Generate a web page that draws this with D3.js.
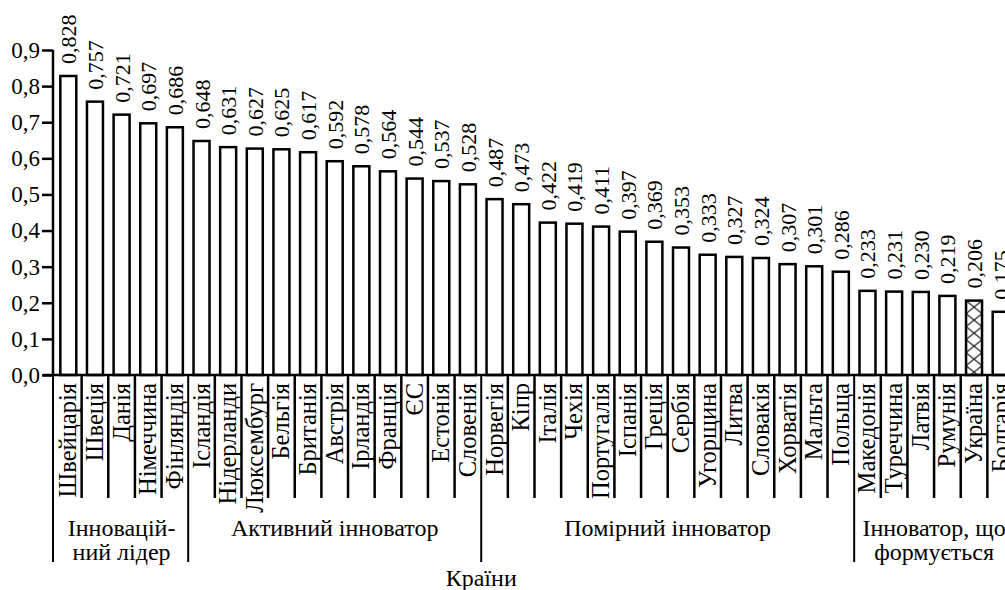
<!DOCTYPE html>
<html>
<head>
<meta charset="utf-8">
<script src="https://cdn.jsdelivr.net/npm/d3@7"></script>
<style>
  body { margin: 0; background: #fff; }
  svg { display: block; }
</style>
</head>
<body>
<div id="chart"></div>
<script>
// Summary innovation index by country
const countries = ["Швейцарія", "Швеція", "Данія", "Німеччина", "Фінляндія",
    "Ісландія", "Нідерланди", "Люксембург", "Бельгія", "Британія", "Австрія", "Ірландія",
    "Франція", "ЄС", "Естонія", "Словенія",
    "Норвегія", "Кіпр", "Італія", "Чехія", "Португалія", "Іспанія", "Греція", "Сербія",
    "Угорщина", "Литва", "Словакія", "Хорватія", "Мальта", "Польща",
    "Македонія", "Туреччина", "Латвія", "Румунія", "Україна", "Болгарія"];

const values = [0.828, 0.757, 0.721, 0.697, 0.686,
    0.648, 0.631, 0.627, 0.625, 0.617, 0.592, 0.578, 0.564, 0.544, 0.537, 0.528,
    0.487, 0.473, 0.422, 0.419, 0.411, 0.397, 0.369, 0.353, 0.333, 0.327, 0.324,
    0.307, 0.301, 0.286,
    0.233, 0.231, 0.230, 0.219, 0.206, 0.175];

// groups: label lines, first and last country
const groupLabels = [["Інновацій-", "ний лідер"], ["Активний інноватор"],
    ["Помірний інноватор"], ["Інноватор, що", "формується"]];
const groupRanges = [["Швейцарія", "Фінляндія"], ["Ісландія", "Словенія"],
    ["Норвегія", "Польща"], ["Македонія", "Болгарія"]];

const yTicks = [0, 0.1, 0.2, 0.3, 0.4, 0.5, 0.6, 0.7, 0.8, 0.9];
const highlight = "Україна";

const data = countries.map((c, i) => ({name: c, value: values[i]}));

const font = "Liberation Serif";

const width = 1005,
      height = 590,
      margin = ({top: 50, right: -9, bottom: 215, left: 55});

const locale = d3.formatLocale({decimal: ",", thousands: " ", grouping: [3], currency: ["", ""]});
const f1 = locale.format(".1f"),
      f3 = locale.format(".3f");

let svg = d3.select("#chart")
    .append("svg")
    .attr("width", width)
    .attr("height", height)
    .attr("viewBox", [0, 0, width, height])
    .attr("font-family", font);

let x = d3.scaleBand()
    .domain(countries)
    .range([margin.left, width - margin.right])
    .paddingInner(0)
    .paddingOuter(0);

let y = d3.scaleLinear()
    .domain([0, 0.9])
    .range([height - margin.bottom, margin.top]);

const y0 = y(0);
const barW = x.bandwidth() * 0.6;
const barX = d => x(d) + (x.bandwidth() - barW) / 2;

// cross hatch for Ukraine, aligned with its bar
svg.append("defs").append("pattern")
    .attr("id", "hatch")
    .attr("patternUnits", "userSpaceOnUse")
    .attr("x", barX(highlight))
    .attr("y", y(values[countries.indexOf(highlight)]))
    .attr("width", barW)
    .attr("height", 13)
    .call(p => {
        p.append("rect").attr("width", barW).attr("height", 13).attr("fill", "#fff");
        p.append("path").attr("d", `M0,0L${barW},13M${barW},0L0,13`)
            .attr("stroke", "#000").attr("stroke-width", 1);
    });

// bars
let bar = svg.selectAll(".bar")
    .data(data)
    .join("g")
    .attr("class", "bar");

bar.append("rect")
    .attr("x", d => barX(d.name))
    .attr("y", d => y(d.value))
    .attr("width", barW)
    .attr("height", d => y0 - y(d.value))
    .attr("fill", d => d.name === highlight ? "url(#hatch)" : "#fff")
    .attr("stroke", "#000")
    .attr("stroke-width", 2.5);

// value labels
bar.append("text")
    .attr("transform", d => `translate(${x(d.name) + x.bandwidth() / 2 + 8},${y(d.value) - 12}) rotate(-90)`)
    .attr("font-family", font)
    .attr("font-size", 22)
    .text(d => f3(d.value));

// y axis
const yAxis = g => g
    .attr("transform", `translate(${margin.left - 2},0)`)
    .call(d3.axisLeft(y).tickValues(yTicks).tickFormat(f1).tickSize(11).tickPadding(2))
    .attr("font-family", font)
    .call(g => g.select(".domain").remove())
    .call(g => g.selectAll(".tick line").attr("stroke-width", 2.5))
    .call(g => g.selectAll(".tick text")
        .attr("font-family", font).attr("font-size", 23).attr("fill", "#000"));

svg.append("g").call(yAxis);

// y axis line
svg.append("line")
    .attr("x1", margin.left - 2).attr("x2", margin.left - 2)
    .attr("y1", y(0.9)).attr("y2", y0)
    .attr("stroke", "#000").attr("stroke-width", 2.5);

// x axis line
svg.append("line")
    .attr("x1", margin.left - 12).attr("x2", width)
    .attr("y1", y0).attr("y2", y0)
    .attr("stroke", "#000").attr("stroke-width", 2.5);

// category separators
const starts = groupRanges.map(r => r[0]);
svg.append("g")
    .selectAll("line")
    .data(countries.slice(1))
    .join("line")
    .attr("x1", d => x(d)).attr("x2", d => x(d))
    .attr("y1", y0).attr("y2", d => starts.includes(d) ? y0 + 187 : y0 + 123)
    .attr("stroke", "#000")
    .attr("stroke-width", d => starts.includes(d) ? 2 : 2.5);

svg.append("line")
    .attr("x1", margin.left - 2).attr("x2", margin.left - 2)
    .attr("y1", y0).attr("y2", y0 + 187)
    .attr("stroke", "#000").attr("stroke-width", 2);

// tick labels
svg.append("g")
    .selectAll("text")
    .data(countries)
    .join("text")
    .attr("transform", d => `translate(${x(d) + x.bandwidth() / 2 + 8},${y0 + 8}) rotate(-90)`)
    .attr("text-anchor", "end")
    .attr("font-family", font)
    .attr("font-size", 24.5)
    .text(d => d);

// group labels
let grp = svg.append("g")
    .selectAll("text")
    .data(groupLabels)
    .join("text")
    .attr("text-anchor", "middle")
    .attr("font-family", font)
    .attr("font-size", 24)
    .attr("transform", (d, i) => {
        const r = groupRanges[i];
        const cx = (x(r[0]) + x(r[1]) + x.bandwidth()) / 2;
        return `translate(${cx},${y0 + 161})`;
    });

grp.selectAll("tspan")
    .data(d => d)
    .join("tspan")
    .attr("x", 0)
    .attr("dy", (d, i) => i === 0 ? 0 : 24)
    .text(d => d);

// axis title
svg.append("text")
    .attr("x", x("Норвегія"))
    .attr("y", height - 4)
    .attr("text-anchor", "middle")
    .attr("font-family", font)
    .attr("font-size", 24)
    .text("Країни");
</script>
</body>
</html>
